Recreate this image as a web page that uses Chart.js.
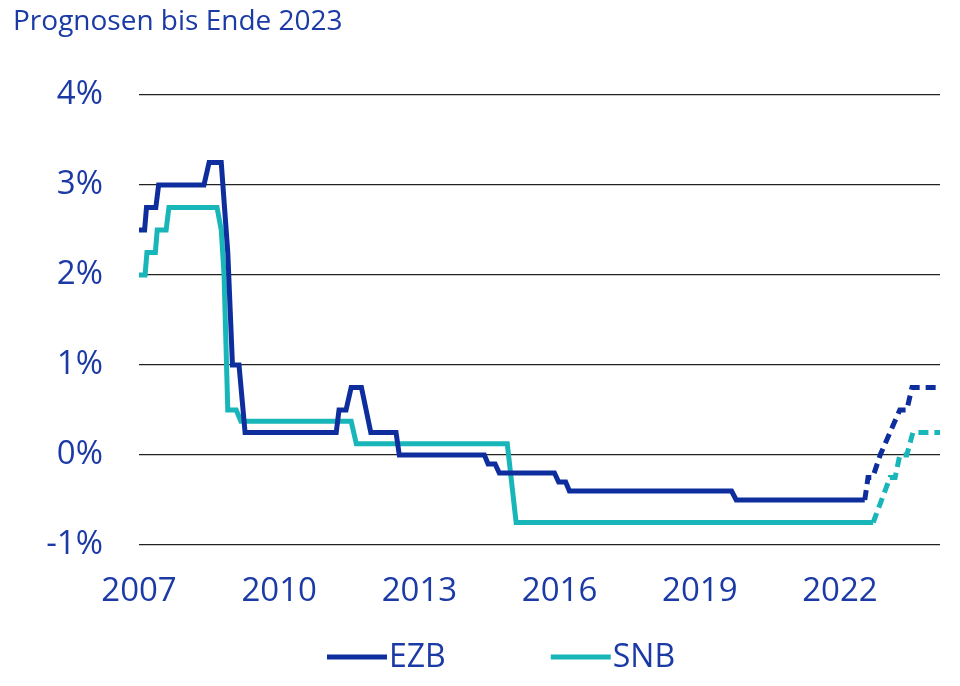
<!DOCTYPE html>
<html>
<head>
<meta charset="utf-8">
<script src="https://cdn.jsdelivr.net/npm/chart.js@4/dist/chart.umd.min.js"></script>
<style>
  body { margin: 0; background: #fff; }
  #wrap { width: 960px; height: 686px; }
</style>
</head>
<body>
<div id="wrap"><canvas id="rateChart" width="960" height="686"></canvas></div>
<script>
const title = "Prognosen bis Ende 2023";

// Leitzinsen (decimal year, %)
const ezbYears = [2007.00, 2007.12, 2007.16, 2007.36, 2007.42, 2008.39, 2008.50, 2008.76, 2008.90, 2009.00, 2009.14, 2009.27,
  2011.22, 2011.28, 2011.43, 2011.54, 2011.76, 2011.96, 2012.50, 2012.57, 2014.39, 2014.47, 2014.62, 2014.71,
  2015.89, 2015.98, 2016.13, 2016.21, 2019.68, 2019.78, 2022.53, 2022.60, 2022.70, 2022.86, 2023.28, 2023.43, 2023.54, 2024.14];
const ezbRates = [2.5, 2.5, 2.75, 2.75, 3.0, 3.0, 3.25, 3.25, 2.25, 1.0, 1.0, 0.25,
  0.25, 0.5, 0.5, 0.75, 0.75, 0.25, 0.25, 0.0, 0.0, -0.1, -0.1, -0.2,
  -0.2, -0.3, -0.3, -0.4, -0.4, -0.5, -0.5, -0.25, -0.25, 0.0, 0.5, 0.5, 0.75, 0.75];

const snbYears = [2007.00, 2007.13, 2007.17, 2007.35, 2007.39, 2007.58, 2007.64, 2008.67, 2008.76, 2008.82, 2008.90, 2009.08,
  2009.18, 2011.54, 2011.65, 2014.88, 2015.07, 2022.71, 2023.07, 2023.18, 2023.28, 2023.43, 2023.56, 2024.14];
const snbRates = [2.0, 2.0, 2.25, 2.25, 2.5, 2.5, 2.75, 2.75, 2.5, 2.0, 0.5, 0.5,
  0.375, 0.375, 0.125, 0.125, -0.75, -0.75, -0.25, -0.25, 0.0, 0.0, 0.25, 0.25];

// forecasts (dashed) start here
const ezbForecastFrom = 2022.53;
const snbForecastFrom = 2022.71;

const xTicks = [2007, 2010, 2013, 2016, 2019, 2022];
const yTicks = [-1, 0, 1, 2, 3, 4];

const textColor = "#1b3aa6";
const ezbColor = "#0f2e9e";
const snbColor = "#19b6b9";
const font = "'Open Sans', 'Noto Sans', sans-serif";

const toPoints = (xs, ys) => xs.map((x, i) => ({ x: x, y: ys[i] }));
const dashFrom = start => ctx => ctx.p0.parsed.x >= start - 0.001 ? [10, 6] : undefined;

// title top-left + legend at the bottom
const decorPlugin = {
  id: "decor",
  afterDraw(chart) {
    const c = chart.ctx;
    c.save();
    c.fillStyle = textColor;
    c.font = "28px " + font;
    c.textBaseline = "alphabetic";
    c.textAlign = "left";
    c.fillText(title, 13, 30);

    c.font = "32px " + font;
    c.textBaseline = "middle";
    let x = 327;
    const y = 657;
    chart.data.datasets.forEach(ds => {
      c.strokeStyle = ds.borderColor;
      c.lineWidth = 5;
      c.beginPath();
      c.moveTo(x, y);
      c.lineTo(x + 60, y);
      c.stroke();
      c.fillStyle = textColor;
      c.fillText(ds.label, x + 62, y + 1);
      x += 62 + c.measureText(ds.label).width + 105;
    });
    c.restore();
  }
};

new Chart(document.getElementById("rateChart"), {
  type: "line",
  data: {
    datasets: [
      {
        label: "EZB",
        data: toPoints(ezbYears, ezbRates),
        borderColor: ezbColor,
        borderWidth: 5,
        pointRadius: 0,
        tension: 0,
        segment: { borderDash: dashFrom(ezbForecastFrom) }
      },
      {
        label: "SNB",
        data: toPoints(snbYears, snbRates),
        borderColor: snbColor,
        borderWidth: 5,
        pointRadius: 0,
        tension: 0,
        segment: { borderDash: dashFrom(snbForecastFrom) }
      }
    ]
  },
  options: {
    responsive: false,
    animation: false,
    devicePixelRatio: 1,
    layout: { padding: { top: 95, right: 20, bottom: 41, left: 0 } },
    plugins: {
      legend: { display: false },
      tooltip: { enabled: false }
    },
    scales: {
      x: {
        type: "linear",
        min: 2007,
        max: 2024.14,
        afterBuildTicks: scale => { scale.ticks = xTicks.map(v => ({ value: v })); },
        afterFit: scale => { scale.height = 100; },
        grid: { display: false },
        border: { display: false },
        ticks: {
          color: textColor,
          font: { family: font, size: 33 },
          padding: 19,
          maxRotation: 0,
          callback: v => String(v)
        }
      },
      y: {
        min: -1,
        max: 4,
        afterBuildTicks: scale => { scale.ticks = yTicks.map(v => ({ value: v })); },
        afterFit: scale => { scale.width = 139; },
        grid: { color: "#222", lineWidth: 1.2, drawTicks: false },
        border: { display: false },
        ticks: {
          color: textColor,
          font: { family: font, size: 33 },
          padding: 36,
          callback: v => v + "%"
        }
      }
    }
  },
  plugins: [decorPlugin]
});
</script>
</body>
</html>
